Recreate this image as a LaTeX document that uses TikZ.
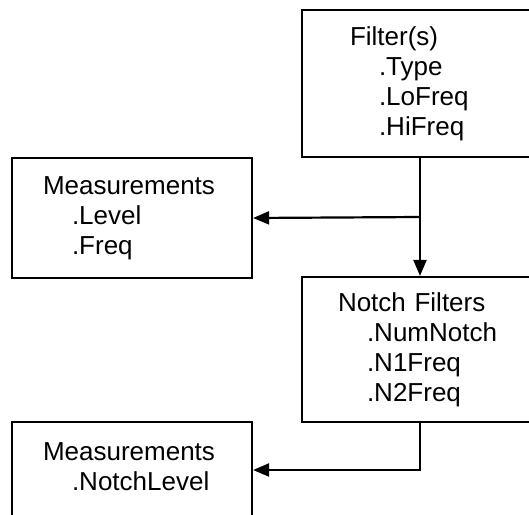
\documentclass[tikz,border=0pt]{standalone}
\usepackage{fontspec}
\setmainfont{Liberation Sans}
\usetikzlibrary{arrows.meta, calc}

\begin{document}
\begin{tikzpicture}[x=1pt, y=-1pt,
    box/.style={draw, line width=2.2pt, inner ysep=0pt, align=left,
        font=\fontsize{26}{30}\selectfont},
    link/.style={line width=2.2pt, -{Triangle[length=16pt, width=13pt]}}]
    % 1. Vùng hiển thị
    \useasboundingbox (0, 0) rectangle (529, 514);
    \clip (0, 0) rectangle (529, 514);

    % 2. Các khối
    \node[box, minimum height=147pt, inner xsep=48pt, text width=144pt] (filt) at (422, 83.5)
        {Filter(s)\\\hspace*{29pt}.Type\\\hspace*{29pt}.LoFreq\\\hspace*{29pt}.HiFreq};
    \node[box, minimum height=120pt, inner xsep=31pt, text width=178pt] (meas) at (132, 218)
        {Measurements\\\hspace*{29pt}.Level\\\hspace*{29pt}.Freq};
    \node[box, minimum height=145pt, inner xsep=36pt, text width=168pt] (notch) at (422, 349.5)
        {Notch Filters\\\hspace*{29pt}.NumNotch\\\hspace*{29pt}.N1Freq\\\hspace*{29pt}.N2Freq};
    \node[box, minimum height=120pt, inner xsep=31pt, text width=178pt] (nmeas) at (132, 482)
        {Measurements\\\hspace*{29pt}.NotchLevel\\~};

    % 3. Các mũi tên
    \coordinate (split) at ($([xshift=-2pt]filt.south)!0.5!([xshift=-2pt]notch.north)$);
    \draw[link] ([xshift=-2pt]filt.south) -- ([xshift=-2pt]notch.north);
    \draw[link] (split) -- (meas.east);
    \draw[link] ([xshift=-2pt]notch.south) |- ([yshift=12pt]nmeas.east);
\end{tikzpicture}
\end{document}
